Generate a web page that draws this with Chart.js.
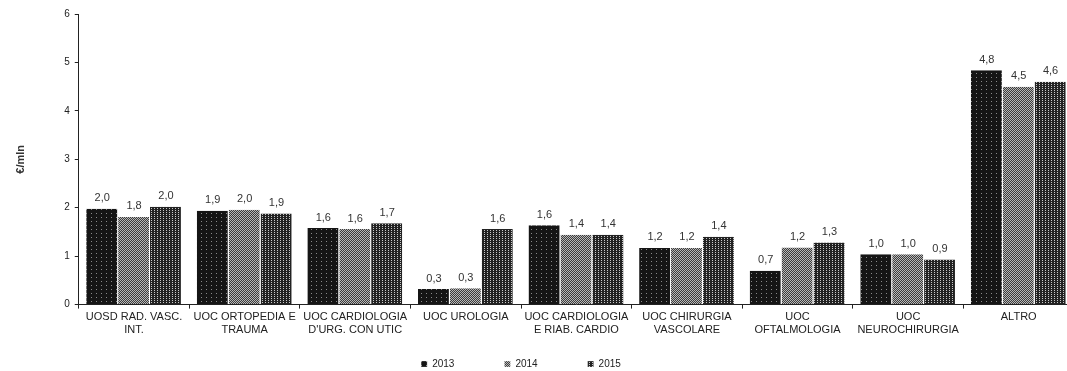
<!DOCTYPE html>
<html>
<head>
<meta charset="utf-8">
<script src="https://cdn.jsdelivr.net/npm/chart.js@4"></script>
<style>
  html, body { margin: 0; padding: 0; background: #fff; overflow: hidden; }
  #wrap { position: relative; width: 1078px; height: 371px; }
</style>
</head>
<body>
<div id="wrap"><canvas id="chart"></canvas></div>
<script>
// Costi per unità operativa, €/mln
const categories = [
    ['UOSD RAD. VASC.', 'INT.'],
    ['UOC ORTOPEDIA E', 'TRAUMA'],
    ['UOC CARDIOLOGIA', "D'URG. CON UTIC"],
    ['UOC UROLOGIA'],
    ['UOC CARDIOLOGIA', 'E RIAB. CARDIO'],
    ['UOC CHIRURGIA', 'VASCOLARE'],
    ['UOC', 'OFTALMOLOGIA'],
    ['UOC', 'NEUROCHIRURGIA'],
    ['ALTRO'],
];
const seriesNames = ['2013', '2014', '2015'];
const values2013 = [1.98, 1.94, 1.58, 0.32, 1.64, 1.17, 0.70, 1.04, 4.84];
const values2014 = [1.81, 1.96, 1.56, 0.34, 1.44, 1.17, 1.18, 1.04, 4.50];
const values2015 = [2.02, 1.88, 1.68, 1.56, 1.44, 1.40, 1.28, 0.93, 4.60];
const yTicks = [0, 1, 2, 3, 4, 5, 6];

const FONT = "'Liberation Sans', Arial, sans-serif";
Chart.defaults.font.family = FONT;
Chart.defaults.color = '#222';

// scanned-print look: small repeating dot textures
function makePattern(bg, dot, size, dots) {
    const c = document.createElement('canvas');
    c.width = size[0];
    c.height = size[1];
    const g = c.getContext('2d');
    g.fillStyle = bg;
    g.fillRect(0, 0, c.width, c.height);
    g.fillStyle = dot;
    dots.forEach(d => g.fillRect(d[0], d[1], 1, 1));
    return g.createPattern(c, 'repeat');
}

const ctx = document.getElementById('chart').getContext('2d');
const fill2013 = makePattern('#151515', '#8a8a8a', [5, 4], [[1, 1]]);
const fill2014 = makePattern('#3c3c3c', '#b8b8b8', [2, 2], [[0, 0], [1, 1]]);
const fill2015 = makePattern('#222222', '#c8c8c8', [3, 2], [[1, 0]]);

const fmt = v => v.toFixed(1).replace('.', ',');

const valueLabels = {
    id: 'valueLabels',
    afterDatasetsDraw(chart) {
        const c = chart.ctx;
        c.save();
        c.font = '11px ' + FONT;
        c.fillStyle = '#333';
        c.textAlign = 'center';
        c.textBaseline = 'bottom';
        chart.data.datasets.forEach((ds, i) => {
            chart.getDatasetMeta(i).data.forEach((bar, j) => {
                c.fillText(fmt(ds.data[j]), bar.x, bar.y - 5);
            });
        });
        c.restore();
    }
};

// the legend in the original sits a bit left of centre
const legendShift = {
    id: 'legendShift',
    afterLayout(chart) {
        chart.legend.left -= 8;
        chart.legend.right -= 8;
    }
};

new Chart(ctx, {
    type: 'bar',
    data: {
        labels: categories,
        datasets: [
            { label: seriesNames[0], data: values2013, backgroundColor: fill2013 },
            { label: seriesNames[1], data: values2014, backgroundColor: fill2014 },
            { label: seriesNames[2], data: values2015, backgroundColor: fill2015 },
        ].map(d => Object.assign(d, {
            borderColor: '#ffffff',
            borderWidth: { left: 0, right: 1, top: 0, bottom: 0 },
            borderSkipped: false,
            barPercentage: 1.0,
            categoryPercentage: 0.865,
        }))
    },
    options: {
        responsive: true,
        maintainAspectRatio: false,
        animation: false,
        layout: { padding: { left: 14, right: 4, top: 14, bottom: -8 } },
        plugins: {
            legend: {
                position: 'bottom',
                labels: {
                    boxWidth: 6,
                    boxHeight: 6,
                    padding: 20,
                    font: { size: 10 },
                    color: '#222',
                    // widen each entry so the three keys spread out like the original
                    generateLabels: chart => Chart.defaults.plugins.legend.labels.generateLabels(chart)
                        .map(l => Object.assign(l, { text: l.text + '\u2003\u2003\u2003' })),
                }
            },
            tooltip: { enabled: false }
        },
        scales: {
            x: {
                grid: {
                    display: true,
                    offset: true,
                    drawOnChartArea: false,
                    tickLength: 4,
                    color: '#222',
                },
                border: { color: '#222', width: 1 },
                ticks: {
                    font: { size: 11 },
                    color: '#222',
                    maxRotation: 0,
                    autoSkip: false,
                    padding: 2,
                }
            },
            y: {
                min: 0,
                max: 6,
                afterBuildTicks: axis => { axis.ticks = yTicks.map(v => ({ value: v })); },
                grid: {
                    display: true,
                    drawOnChartArea: false,
                    tickLength: 4,
                    color: '#222',
                },
                border: { color: '#222', width: 1 },
                ticks: {
                    font: { size: 10 },
                    color: '#222',
                    padding: 5,
                },
                title: {
                    display: true,
                    text: '€/mln',
                    font: { size: 11, weight: 'bold' },
                    color: '#333',
                    padding: { top: 0, bottom: 32 },
                }
            }
        }
    },
    plugins: [valueLabels, legendShift]
});
</script>
</body>
</html>
